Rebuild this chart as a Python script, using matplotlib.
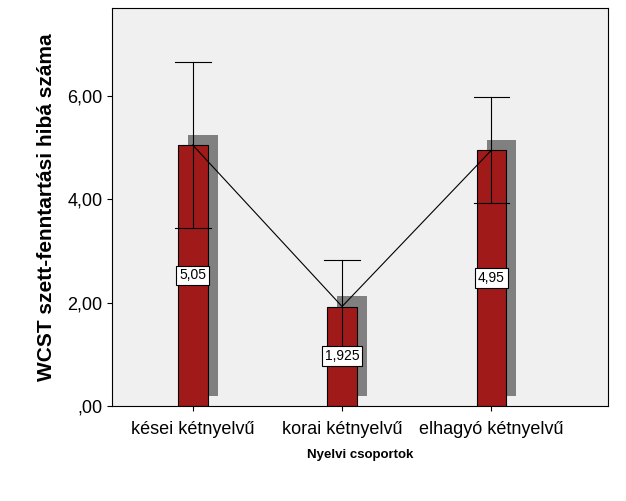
import matplotlib
matplotlib.use("Agg")
import matplotlib.pyplot as plt
plt.rcParams['font.family'] = ['Liberation Sans', 'DejaVu Sans']

categories = ["kései kétnyelvű", "korai kétnyelvű", "elhagyó kétnyelvű"]
means = [5.05, 1.925, 4.95]
err_low = [3.45, 1.03, 3.93]
err_high = [6.65, 2.82, 5.97]
labels = ["5,05", "1,925", "4,95"]
yticks = [0, 2, 4, 6]
yticklabels = [",00", "2,00", "4,00", "6,00"]

fig = plt.figure(figsize=(6.26, 5.01), dpi=100)
ax = fig.add_axes([112/626, 95/501, 496/626, 398/501])
ax.set_facecolor("#f0f0f0")
x = list(range(len(categories)))
w = 0.2
ax.bar([i + 0.067 for i in x], means, bottom=0.2, width=w, color="#808080", zorder=1)
ax.bar(x, means, width=w, color="#a01a1a", edgecolor="black", linewidth=0.8, zorder=2)
for i in x:
    ax.plot([i, i], [err_low[i], err_high[i]], color="black", lw=0.8, zorder=3)
    for yv in (err_low[i], err_high[i]):
        ax.plot([i - 0.12, i + 0.12], [yv, yv], color="black", lw=0.8, zorder=3)
    ax.text(i, means[i] / 2, labels[i], ha="center", va="center", fontsize=10,
            bbox=dict(boxstyle="square,pad=0.2", fc="white", ec="black", lw=0.8), zorder=4)
ax.plot(x, means, color="black", lw=0.8, zorder=3)
ax.set_xlim(-0.54, 2.78)
ax.set_ylim(0, 7.7)
ax.set_yticks(yticks)
ax.set_yticklabels(yticklabels, fontsize=13)
ax.set_xticks(x)
ax.set_xticklabels(categories, fontsize=13)
ax.tick_params(axis='x', pad=7)
ax.set_xlabel("Nyelvi csoportok", fontsize=9.5, fontweight="bold", labelpad=8)
ax.set_ylabel("WCST szett-fenntartási hibá száma", fontsize=15, fontweight="bold", labelpad=8)
for s in ax.spines.values():
    s.set_linewidth(0.8)
plt.savefig("out.png", dpi=100)
